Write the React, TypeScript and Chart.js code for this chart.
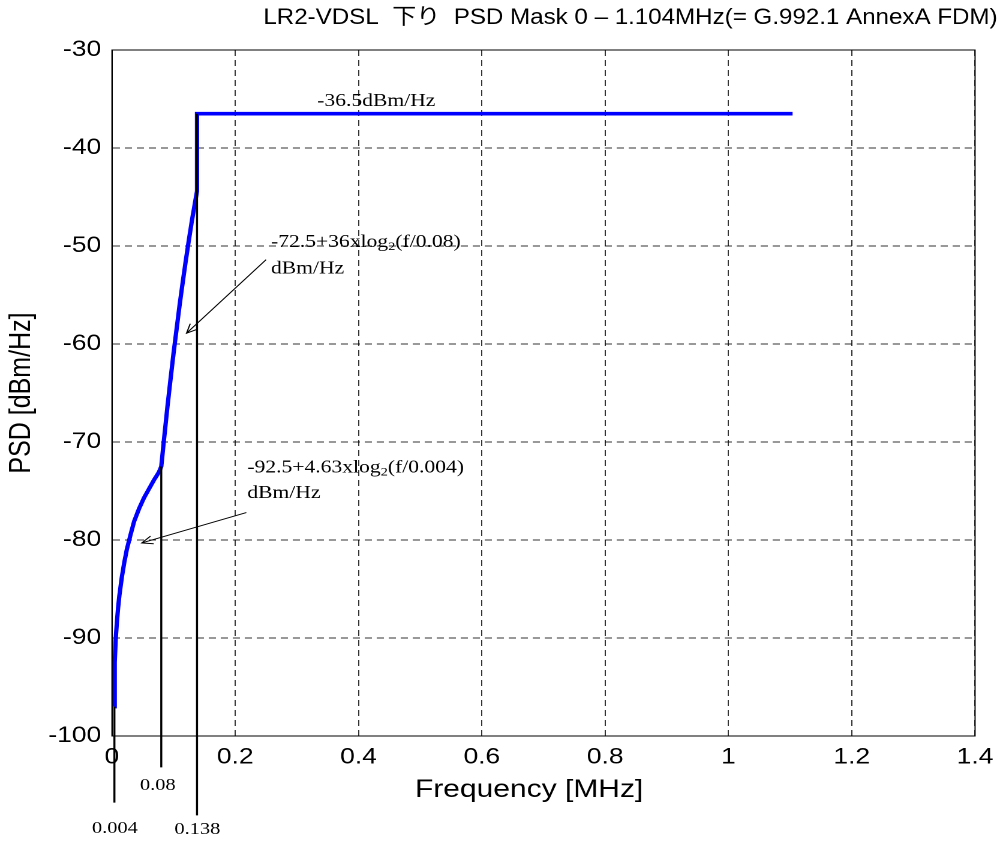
import React, { useEffect, useRef } from 'react';
import { Chart, registerables } from 'chart.js';

Chart.register(...registerables);

// ---------- text ----------
const TITLE = 'LR2-VDSL  下り  PSD Mask 0 – 1.104MHz(= G.992.1 AnnexA FDM)';
const X_TITLE = 'Frequency [MHz]';
const Y_TITLE = 'PSD [dBm/Hz]';

// ---------- ticks ----------
const xTickValues = [0, 0.2, 0.4, 0.6, 0.8, 1.0, 1.2, 1.4];
const xTickLabels = ['0', '0.2', '0.4', '0.6', '0.8', '1', '1.2', '1.4'];
const yTickValues = [-100, -90, -80, -70, -60, -50, -40, -30];
const yTickLabels = ['-100', '-90', '-80', '-70', '-60', '-50', '-40', '-30'];

// ---------- PSD mask ----------
const maskFreq = [
  0.004, 0.0045, 0.006, 0.008, 0.010, 0.012, 0.016, 0.020, 0.024, 0.030, 0.036, 0.044,
  0.052, 0.060, 0.068, 0.076, 0.080, 0.084, 0.090, 0.095, 0.100, 0.105, 0.110, 0.115,
  0.120, 0.125, 0.130, 0.138, 0.138, 1.104,
];
const maskPsd = [
  -97.0, -92.5, -90.2, -88.4, -86.9, -85.7, -83.8, -82.3, -81.0, -79.5, -78.1, -76.8,
  -75.7, -74.8, -73.9, -73.1, -72.5, -70.0, -66.4, -63.6, -60.9, -58.4, -55.9, -53.6,
  -51.4, -49.3, -47.3, -44.4, -36.5, -36.5,
];

// ---------- black marker lines at breakpoints ----------
const markerFreq = [0.004, 0.08, 0.138];
const markerTop = [-97.0, -72.5, -36.5];
const markerBottom = [-106.8, -103.2, -108.1];
const markerLabels = ['0.004', '0.08', '0.138'];
const markerLabelFreq = [0.0048, 0.0743, 0.1386];
const markerLabelPsd = [-109.9, -105.5, -110.0];

// ---------- formula annotations ----------
const flatNote = '-36.5dBm/Hz';
const flatNoteAt = [0.333, -35.7];
const note1Parts = ['-72.5+36xlog', '2', '(f/0.08)'];
const note1At = [0.258, -50.1];
const note1UnitAt = [0.258, -52.8];
const arrow1From = [0.25, -51.4];
const arrow1To = [0.121, -58.9];
const note2Parts = ['-92.5+4.63xlog', '2', '(f/0.004)'];
const note2At = [0.2196, -73.1];
const note2UnitAt = [0.2196, -75.7];
const arrow2From = [0.218, -77.2];
const arrow2To = [0.0484, -80.3];
const UNIT = 'dBm/Hz';

const SANS = '"Liberation Sans", Arial, "Noto Sans CJK JP", sans-serif';
const SERIF = '"Liberation Serif", "Times New Roman", serif';

const annotPlugin = {
  id: 'annot',
  afterDatasetsDraw(chart: any) {
    const { ctx, chartArea, scales } = chart;
    const x = scales.x;
    const y = scales.y;
    const px = (v: number) => x.getPixelForValue(v);
    const py = (v: number) => y.getPixelForValue(v);
    ctx.save();
    ctx.setLineDash([]);
    // axes box
    ctx.strokeStyle = '#000';
    ctx.lineWidth = 1;
    ctx.strokeRect(chartArea.left, chartArea.top, chartArea.right - chartArea.left, chartArea.bottom - chartArea.top);

    // title: 22px glyphs, condensed horizontally to span the reference width
    ctx.fillStyle = '#000';
    ctx.font = `22px ${SANS}`;
    const w = ctx.measureText(TITLE).width;
    const sx = 612 / w;
    ctx.save();
    ctx.translate(219.5, 18);
    ctx.scale(sx, 1);
    ctx.textAlign = 'left';
    ctx.textBaseline = 'middle';
    ctx.fillText(TITLE, 0, 0);
    ctx.restore();

    // x axis title
    ctx.font = `25px ${SANS}`;
    ctx.textAlign = 'center';
    ctx.textBaseline = 'middle';
    ctx.fillText(X_TITLE, (chartArea.left + chartArea.right) / 2 - 12, 790);

    // serif annotations
    ctx.textAlign = 'left';
    ctx.textBaseline = 'alphabetic';
    ctx.font = `18px ${SERIF}`;
    ctx.fillText(flatNote, px(flatNoteAt[0]), py(flatNoteAt[1]));

    const drawParts = (parts: string[], at: number[]) => {
      let cx = px(at[0]);
      const cy = py(at[1]);
      ctx.font = `18px ${SERIF}`;
      ctx.fillText(parts[0], cx, cy);
      cx += ctx.measureText(parts[0]).width;
      ctx.font = `12px ${SERIF}`;
      ctx.fillText(parts[1], cx, cy + 3);
      cx += ctx.measureText(parts[1]).width;
      ctx.font = `18px ${SERIF}`;
      ctx.fillText(parts[2], cx, cy);
    };
    drawParts(note1Parts, note1At);
    ctx.font = `18px ${SERIF}`;
    ctx.fillText(UNIT, px(note1UnitAt[0]), py(note1UnitAt[1]));
    drawParts(note2Parts, note2At);
    ctx.font = `18px ${SERIF}`;
    ctx.fillText(UNIT, px(note2UnitAt[0]), py(note2UnitAt[1]));

    // arrows
    const arrow = (from: number[], to: number[]) => {
      const x1 = px(from[0]), y1 = py(from[1]);
      const x2 = px(to[0]), y2 = py(to[1]);
      ctx.strokeStyle = '#000';
      ctx.lineWidth = 1;
      ctx.beginPath();
      ctx.moveTo(x1, y1);
      ctx.lineTo(x2, y2);
      const ang = Math.atan2(y1 - y2, x1 - x2);
      const len = 10;
      const spread = 0.42;
      ctx.moveTo(x2 + len * Math.cos(ang + spread), y2 + len * Math.sin(ang + spread));
      ctx.lineTo(x2, y2);
      ctx.lineTo(x2 + len * Math.cos(ang - spread), y2 + len * Math.sin(ang - spread));
      ctx.stroke();
    };
    arrow(arrow1From, arrow1To);
    arrow(arrow2From, arrow2To);

    // breakpoint labels
    ctx.font = `17px ${SERIF}`;
    ctx.textAlign = 'center';
    markerLabels.forEach((t, i) => {
      ctx.fillText(t, px(markerLabelFreq[i]), py(markerLabelPsd[i]));
    });
    ctx.restore();
  },
};

export default function App() {
  const ref = useRef<HTMLCanvasElement | null>(null);

  useEffect(() => {
    if (!ref.current) return;
    const markerSets = markerFreq.map((f, i) => ({
      label: 'marker' + i,
      data: [
        { x: f, y: markerTop[i] },
        { x: f, y: markerBottom[i] },
      ],
      borderColor: '#000',
      borderWidth: 1.7,
      pointRadius: 0,
      clip: false as any,
    }));
    const chart = new Chart(ref.current, {
      type: 'line',
      data: {
        datasets: [
          ...markerSets,
          {
            label: 'PSD mask',
            data: maskFreq.map((f, i) => ({ x: f, y: maskPsd[i] })),
            borderColor: '#0000ff',
            borderWidth: 3.6,
            pointRadius: 0,
            tension: 0,
          },
        ],
      },
      options: {
        animation: false,
        responsive: false,
        devicePixelRatio: 2,
        layout: { padding: { left: 0, top: 50, right: 20.2, bottom: 0 } },
        plugins: {
          legend: { display: false },
          tooltip: { enabled: false },
          title: { display: false },
        },
        scales: {
          x: {
            type: 'linear',
            min: 0,
            max: 1.4,
            afterBuildTicks: (s: any) => {
              s.ticks = xTickValues.map((v) => ({ value: v }));
            },
            afterFit: (s: any) => {
              s.height = 107;
            },
            ticks: {
              padding: 8,
              color: '#000',
              font: { family: SANS, size: 22 },
              maxRotation: 0,
              autoSkip: false,
              callback: (v: any) => xTickLabels[xTickValues.indexOf(Number(v))] ?? '',
            },
            grid: { color: 'rgba(0,0,0,0.8)', lineWidth: 1, drawTicks: false },
            border: { display: true, color: '#000', width: 1, dash: [6, 4] },
            title: { display: false },
          },
          y: {
            type: 'linear',
            min: -100,
            max: -30,
            afterBuildTicks: (s: any) => {
              s.ticks = yTickValues.map((v) => ({ value: v }));
            },
            afterFit: (s: any) => {
              s.width = 93.3;
            },
            ticks: {
              padding: 9,
              color: '#000',
              font: { family: SANS, size: 22 },
              autoSkip: false,
              callback: (v: any) => yTickLabels[yTickValues.indexOf(Number(v))] ?? '',
            },
            grid: { color: 'rgba(0,0,0,0.8)', lineWidth: 1, drawTicks: false },
            border: { display: true, color: '#000', width: 1, dash: [6, 4] },
            title: {
              display: true,
              text: Y_TITLE,
              color: '#000',
              font: { family: SANS, size: 25 },
              padding: { top: 3, bottom: 0 },
            },
          },
        },
      } as any,
      plugins: [annotPlugin],
    });
    return () => chart.destroy();
  }, []);

  return (
    <div
      style={{
        position: 'fixed',
        left: 0,
        top: 0,
        width: 1003,
        height: 843,
        overflow: 'hidden',
        background: '#fff',
      }}
    >
      <canvas
        ref={ref}
        width={836}
        height={843}
        style={{
          display: 'block',
          width: '836px',
          height: '843px',
          transform: 'scale(1.19976, 1)',
          transformOrigin: '0 0',
        }}
      />
    </div>
  );
}
